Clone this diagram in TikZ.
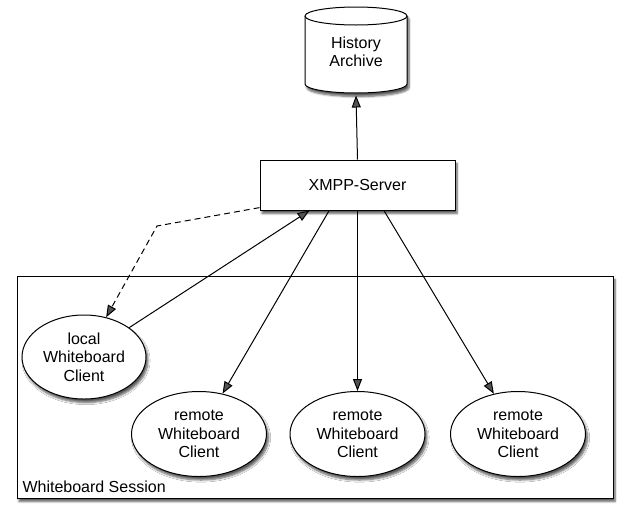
\documentclass[tikz,border=0pt]{standalone}
\usepackage{fontspec}
\setmainfont{Liberation Sans}
\usetikzlibrary{shapes.geometric,arrows.meta,shadows.blur}
\begin{document}
\begin{tikzpicture}[x=1pt,y=-1pt,
  font=\fontsize{16}{18.5}\selectfont,
  line width=1pt,
  shade/.style={blur shadow={shadow xshift=2pt,shadow yshift=-3.5pt,shadow blur steps=6,shadow opacity=65}},
  box/.style={draw,fill=white,shade,inner sep=0pt},
  client/.style={ellipse,draw,fill=white,shade,align=center,inner sep=0pt},
  arrow/.style={-{Triangle[length=12pt,width=9pt]}}
]
\useasboundingbox (0,0) rectangle (618,504);

% session frame
\node[box,minimum width=596pt,minimum height=222pt] (session) at (315,387) {};
\node[anchor=south west,inner sep=0pt] (sessionlabel) at (22,493) {Whiteboard Session};

% archive cylinder
\path[draw,fill=white,shade] (305,16) -- (305,84) arc (180:360:51pt and 9pt)
  -- (407,16) arc (0:180:51pt and 9pt) -- cycle;
\draw (305,16) arc (180:360:51pt and 9pt);
\node[minimum width=102pt,minimum height=86pt,align=center,inner sep=0pt] (archive) at (356,52) {History\\Archive};

% server
\node[box,minimum width=195pt,minimum height=50pt] (server) at (357.5,185) {XMPP-Server};

% clients
\node[client,minimum width=124pt,minimum height=84pt] (local) at (84,357) {local\\Whiteboard\\Client};
\node[client,minimum width=135pt,minimum height=85pt] (r1) at (199,434) {remote\\Whiteboard\\Client};
\node[client,minimum width=135pt,minimum height=85pt] (r2) at (357.5,434) {remote\\Whiteboard\\Client};
\node[client,minimum width=135pt,minimum height=85pt] (r3) at (518,434) {remote\\Whiteboard\\Client};

\coordinate (bend) at (157,226);

% connectors
\draw[arrow] (server.north) -- (archive.south);
\draw[arrow] (local) -- (server.208);
\draw[arrow] (server.222) -- (r1);
\draw[arrow] (server.south) -- (r2);
\draw[arrow] (server.316) -- (r3);
\draw[arrow,dashed,dash pattern=on 6pt off 4pt] (server.193) -- (bend) -- (local);
\end{tikzpicture}
\end{document}
